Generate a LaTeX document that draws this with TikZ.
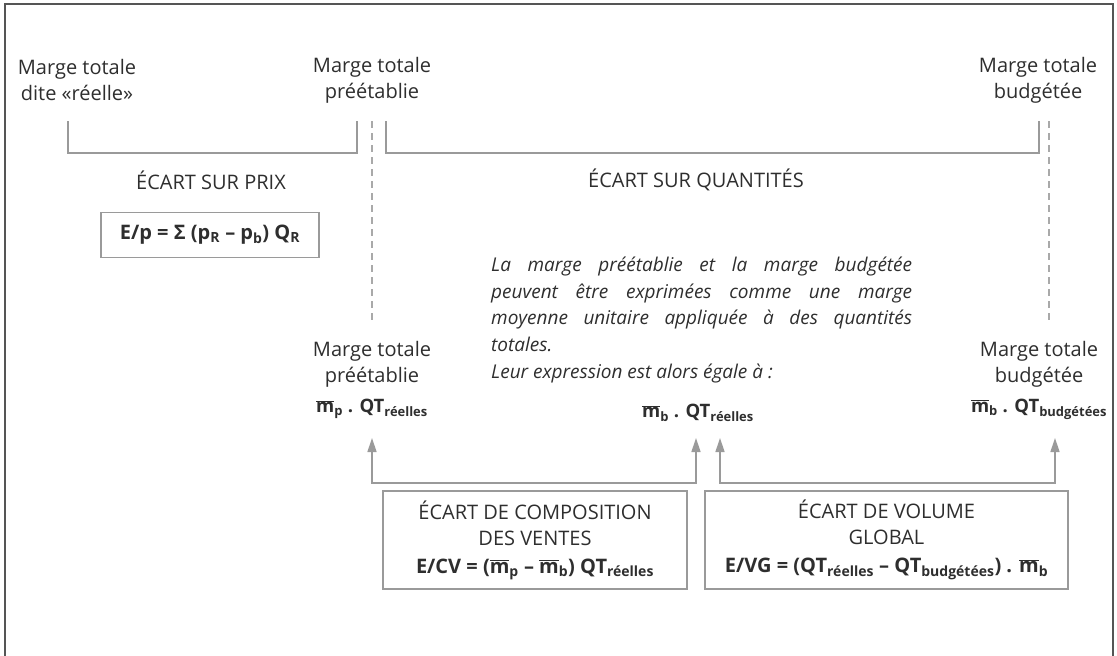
\documentclass[tikz,border=0pt]{standalone}
\usepackage{fontspec}
\setmainfont{Open Sans}
\usetikzlibrary{arrows.meta}
\definecolor{txt}{HTML}{2E2E2E}
\definecolor{ln}{HTML}{9A9A9A}
\definecolor{frmc}{HTML}{555555}
\newcommand\mbar{$\overline{\mbox{m}}$}
\newcommand\sbs[1]{\textsubscript{#1}}
\newcommand\fml{\fontsize{18.5}{26}\selectfont\bfseries}
\begin{document}
\begin{tikzpicture}[x=1pt,y=-1pt,
  every node/.style={text=txt,font=\fontsize{20}{26}\selectfont,inner sep=0pt},
  lbl/.style={align=center},
  brk/.style={draw=ln,line width=1.4pt},
  dsh/.style={draw=ln!85,line width=1.1pt,dash pattern=on 7pt off 5pt},
  arr/.style={draw=ln,line width=1.4pt,{Triangle[length=14pt,width=9pt]}-{Triangle[length=14pt,width=9pt]}},
  fbox/.style={draw=ln,line width=1.4pt,align=center},
  frame/.style={draw=frmc,line width=1.8pt}]
\useasboundingbox (0,0) rectangle (1117,656);
\draw[frame] (5,660) -- (5,4) -- (1113,4) -- (1113,660);

% top labels
\node[lbl] (reel) at (77,80) {Marge totale\\dite «réelle»};
\node[lbl] (pre) at (372,80) {Marge totale\\préétablie};
\node[lbl] (bud) at (1038,80) {Marge totale\\budgétée};

% brackets
\coordinate (b1a) at (68,121);  \coordinate (b1b) at (357,121);
\coordinate (b2a) at (386,121); \coordinate (b2b) at (1039,121);
\draw[brk] (b1a) -- (68,153) -- (357,153) -- (b1b);
\draw[brk] (b2a) -- (386,153) -- (1039,153) -- (b2b);

\node (prix) at (211,180) {ÉCART SUR PRIX};
\node (quant) at (696,180) {ÉCART SUR QUANTITÉS};

\node[fbox,minimum width=218pt,minimum height=45pt] (ep) at (210,235)
  {\bfseries E/p = Σ (p\sbs{R} -- p\sbs{b}) Q\sbs{R}};

% italic text
\node[font=\fontsize{19}{26.6}\selectfont\itshape,text width=421pt,align=justify,anchor=north west] (expl) at (491,257)
  {La marge préétablie et la marge budgétée\linebreak peuvent être exprimées comme une marge\linebreak moyenne unitaire appliquée à des quantités\linebreak totales.\par Leur expression est alors égale à~:};

% middle labels
\node[lbl] (pre2) at (372,380) {Marge totale\\préétablie\\[4pt]\fml\mbar\sbs{p} . QT\sbs{réelles}};
\node[font=\fml] (mid) at (698,413) {\mbar\sbs{b} . QT\sbs{réelles}};
\node[lbl] (bud2) at (1039,380) {Marge totale\\budgétée\\[4pt]\fml\mbar\sbs{b} . QT\sbs{budgétées}};

% dashed links
\coordinate (d1a) at (372,121); \coordinate (d1b) at (372,323);
\coordinate (d2a) at (1049,121); \coordinate (d2b) at (1049,323);
\draw[dsh] (d1a) -- (d1b);
\draw[dsh] (d2a) -- (d2b);

% bottom boxes
\node[fbox,minimum width=304pt,minimum height=98pt] (cv) at (535,540)
  {ÉCART DE COMPOSITION\\DES VENTES\\[2pt]\bfseries E/CV = (\mbar\sbs{p} -- \mbar\sbs{b}) QT\sbs{réelles}};
\node[fbox,minimum width=363pt,minimum height=98pt] (vg) at (886.5,540)
  {ÉCART DE VOLUME\\GLOBAL\\[2pt]\bfseries E/VG = (QT\sbs{réelles} -- QT\sbs{budgétées}) . \mbar\sbs{b}};

% arrows
\coordinate (c1) at (372,438); \coordinate (c2) at (696,438);
\coordinate (c3) at (720,438); \coordinate (c4) at (1055,438);
\draw[arr] (c1) -- (372,483) -- (696,483) -- (c2);
\draw[arr] (c3) -- (720,483) -- (1055,483) -- (c4);
\end{tikzpicture}
\end{document}
